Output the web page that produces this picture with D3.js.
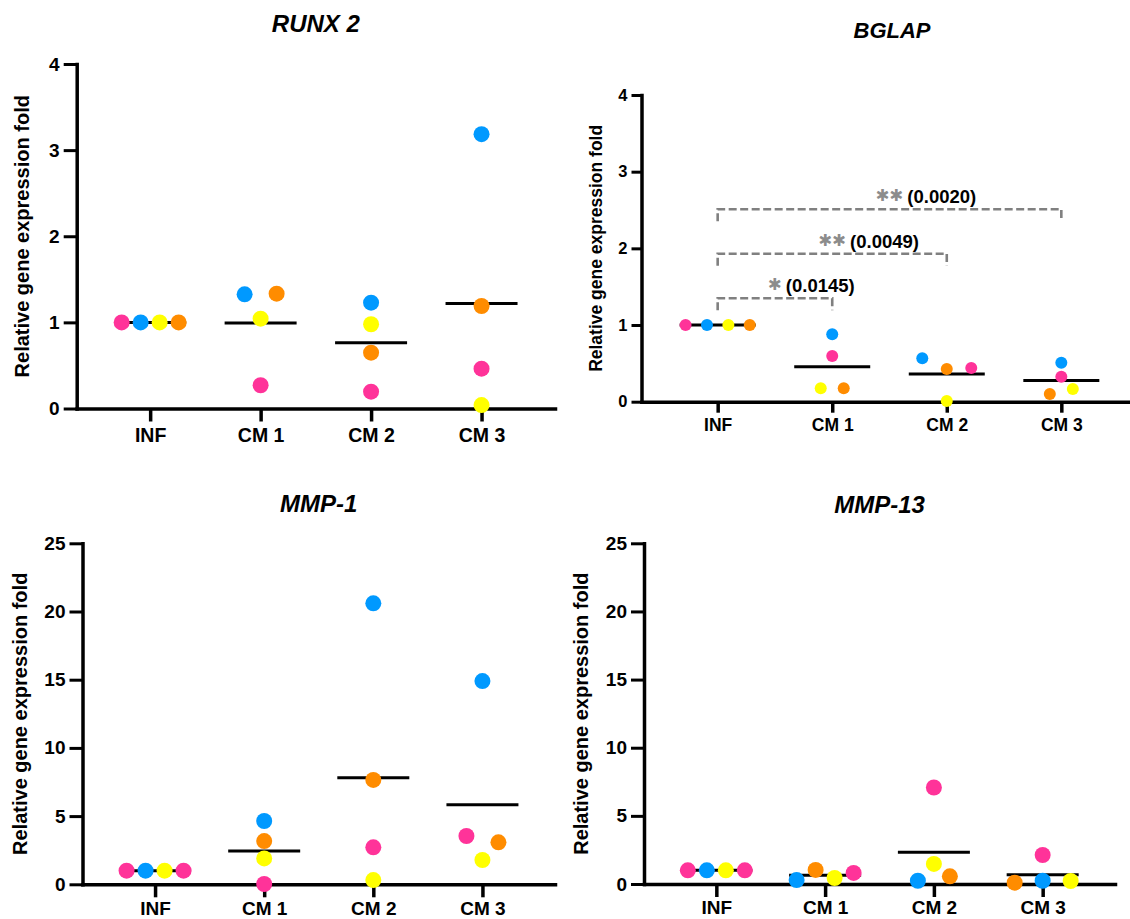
<!DOCTYPE html>
<html><head><meta charset="utf-8">
<script src="https://cdn.jsdelivr.net/npm/d3@7"></script>
<style>
body{margin:0;background:#fff}
svg{display:block}
text{font-family:"Liberation Sans",Arial,Helvetica,sans-serif;font-weight:bold;fill:#000}
</style>
</head><body>
<svg id="chart" width="1130" height="919"></svg>
<script>
// ---------------- DATA ----------------
const categories = ["INF", "CM 1", "CM 2", "CM 3"];
const donorColors = { pink: "#FF3399", blue: "#0099FF", yellow: "#FFFF00", orange: "#FF8C00" };
const yAxisTitle = "Relative gene expression fold";

// RUNX 2
const runx2Ticks = [0, 1, 2, 3, 4];
const runx2Values = [[1, 1, 1, 1], [1.326, 1.333, 1.043, 0.27], [1.229, 0.978, 0.648, 0.195], [3.185, 1.19, 0.462, 0.04]];
const runx2Donors = [["pink", "blue", "yellow", "orange"], ["blue", "orange", "yellow", "pink"], ["blue", "yellow", "orange", "pink"], ["blue", "orange", "pink", "yellow"]];

// BGLAP
const bglapTicks = [0, 1, 2, 3, 4];
const bglapValues = [[1, 1, 1, 1], [0.879, 0.596, 0.175, 0.175], [0.566, 0.426, 0.439, 0.009], [0.508, 0.326, 0.10, 0.166]];
const bglapDonors = [["pink", "blue", "yellow", "orange"], ["blue", "pink", "yellow", "orange"], ["blue", "orange", "pink", "yellow"], ["blue", "pink", "orange", "yellow"]];
const bglapSigPairs = [["INF", "CM 1"], ["INF", "CM 2"], ["INF", "CM 3"]];
const bglapSigLevels = [1.35, 1.93, 2.51];
const bglapSigStars = ["✱", "✱✱", "✱✱"];
const bglapSigP = ["(0.0145)", "(0.0049)", "(0.0020)"];

// MMP-1
const mmp1Ticks = [0, 5, 10, 15, 20, 25];
const mmp1Values = [[1, 1, 1, 1], [4.64, 3.17, 1.9, 0.02], [20.6, 7.65, 2.71, 0.31], [14.9, 3.54, 3.08, 1.78]];
const mmp1Donors = [["pink", "blue", "yellow", "pink"], ["blue", "orange", "yellow", "pink"], ["blue", "orange", "pink", "yellow"], ["blue", "pink", "orange", "yellow"]];

// MMP-13
const mmp13Ticks = [0, 5, 10, 15, 20, 25];
const mmp13Values = [[1, 1, 1, 1], [0.29, 1.03, 0.44, 0.81], [7.08, 1.47, 0.24, 0.56], [2.13, 0.10, 0.24, 0.22]];
const mmp13Donors = [["pink", "blue", "yellow", "pink"], ["blue", "orange", "yellow", "pink"], ["pink", "yellow", "blue", "orange"], ["pink", "orange", "blue", "yellow"]];

// ---------------- LAYOUT ----------------
const big = { r: 8, spacing: { 2: 32, 3: 28, 4: 19 }, meanHalf: 36, titleSize: 24, tickFont: 19, catFont: 19.5,
  yTitleSize: 20, yTickLen: 13, yTickPad: 4, xTickLen: 13, catPad: 7 };
const small = { r: 6, spacing: { 2: 23, 3: 24.5, 4: 21.4 }, meanHalf: 38, titleSize: 22, tickFont: 16.5, catFont: 17.5,
  yTitleSize: 17.5, yTickLen: 10, yTickPad: 4, xTickLen: 11, catPad: 6 };

const panels = [
  Object.assign({}, big, { title: "RUNX 2", ticks: runx2Ticks, values: runx2Values, donors: runx2Donors,
    left: 76.7, right: 555, top: 64, bottom: 408.5, titleY: 32, yTitleX: 24 }),
  Object.assign({}, small, { title: "BGLAP", ticks: bglapTicks, values: bglapValues, donors: bglapDonors,
    left: 641.5, right: 1137.5, top: 95, bottom: 401.7, titleY: 38, titleCx: 892, yTitleX: 597, sig: true }),
  Object.assign({}, big, { title: "MMP-1", ticks: mmp1Ticks, values: mmp1Values, donors: mmp1Donors,
    left: 82.5, right: 555, top: 543.3, bottom: 884.3, titleY: 512, yTitleX: 22, catFont: 19, catPad: 4 }),
  Object.assign({}, big, { title: "MMP-13", ticks: mmp13Ticks, values: mmp13Values, donors: mmp13Donors,
    left: 644, right: 1115, top: 543.3, bottom: 884, titleY: 513, yTitleX: 583, catFont: 19, catPad: 4 })
];

const svg = d3.select("#chart");

function swarmOffsets(vals, y, spacing, thresh) {
  const idx = vals.map((v, i) => i).sort((a, b) => y(vals[a]) - y(vals[b]));
  const clusters = [];
  let cur = [idx[0]];
  for (let k = 1; k < idx.length; k++) {
    if (Math.abs(y(vals[idx[k]]) - y(vals[idx[k - 1]])) <= thresh) cur.push(idx[k]);
    else { clusters.push(cur); cur = [idx[k]]; }
  }
  clusters.push(cur);
  const off = new Array(vals.length).fill(0);
  clusters.forEach(cl => {
    cl.sort((a, b) => a - b);
    const n = cl.length, s = spacing[Math.min(n, 4)] || 0;
    cl.forEach((id, j) => off[id] = (j - (n - 1) / 2) * s);
  });
  return off;
}

function drawPanel(p) {
  const g = svg.append("g");
  const x = d3.scalePoint().domain(categories).range([p.left, p.right]).padding(0.665);
  const y = d3.scaleLinear().domain([0, d3.max(p.ticks)]).range([p.bottom, p.top]);

  // y axis
  const ya = g.append("g").attr("transform", `translate(${p.left},0)`)
    .call(d3.axisLeft(y).tickValues(p.ticks).tickFormat(d3.format("d")).tickSize(p.yTickLen).tickSizeOuter(0).tickPadding(p.yTickPad));
  ya.select(".domain").attr("stroke", "#000").attr("stroke-width", 3.5).attr("stroke-linecap", "square");
  ya.selectAll(".tick line").attr("stroke", "#000").attr("stroke-width", 3);
  ya.selectAll(".tick text").style("font-size", p.tickFont + "px").attr("fill", "#000");

  // x axis
  const xa = g.append("g").attr("transform", `translate(0,${p.bottom})`)
    .call(d3.axisBottom(x).tickSize(p.xTickLen).tickSizeOuter(0).tickPadding(p.catPad));
  xa.select(".domain").attr("stroke", "#000").attr("stroke-width", 3.5).attr("stroke-linecap", "square");
  xa.selectAll(".tick line").attr("stroke", "#000").attr("stroke-width", 3.5);
  xa.selectAll(".tick text").style("font-size", p.catFont + "px").attr("fill", "#000");

  // mean lines
  categories.forEach((c, i) => {
    const m = d3.mean(p.values[i]);
    g.append("line").attr("x1", x(c) - p.meanHalf).attr("x2", x(c) + p.meanHalf)
      .attr("y1", y(m)).attr("y2", y(m)).attr("stroke", "#000").attr("stroke-width", 3);
  });

  // dots
  categories.forEach((c, i) => {
    const vals = p.values[i];
    const off = swarmOffsets(vals, y, p.spacing, 11);
    g.selectAll(null).data(vals).enter().append("circle")
      .attr("cx", (d, j) => x(c) + off[j]).attr("cy", d => y(d)).attr("r", p.r)
      .attr("fill", (d, j) => donorColors[p.donors[i][j]]);
  });

  // significance brackets
  if (p.sig) {
    bglapSigPairs.forEach((pair, k) => {
      const x1 = x(pair[0]), x2 = x(pair[1]), yy = y(bglapSigLevels[k]), leg = 12;
      g.append("path").attr("d", `M${x1},${yy + leg}V${yy}H${x2}V${yy + leg}`)
        .attr("fill", "none").attr("stroke", "#808080").attr("stroke-width", 2.6).attr("stroke-dasharray", "8,3.5");
      const cx = (x1 + x2) / 2;
      const st = g.append("text").attr("x", cx).attr("y", yy - 8).attr("text-anchor", "middle")
        .style("font-family", '"DejaVu Sans", sans-serif').style("font-size", "16.5px").style("fill", "#8c8c8c")
        .text(bglapSigStars[k]);
      const w = st.node().getComputedTextLength();
      g.append("text").attr("x", cx + w / 2 + 4).attr("y", yy - 6).style("font-size", "18.5px").text(bglapSigP[k]);
    });
  }

  // title
  const tcx = p.titleCx || (p.left + p.right) / 2;
  g.append("text").attr("x", tcx).attr("y", p.titleY).attr("text-anchor", "middle")
    .style("font-size", p.titleSize + "px").style("font-style", "italic").text(p.title);

  // y title
  const cy = (p.top + p.bottom) / 2;
  g.append("text").attr("transform", `translate(${p.yTitleX + 0.26 * p.yTitleSize},${cy}) rotate(-90)`)
    .attr("text-anchor", "middle").style("font-size", p.yTitleSize + "px").text(yAxisTitle);
}

panels.forEach(drawPanel);
</script>
</body></html>
